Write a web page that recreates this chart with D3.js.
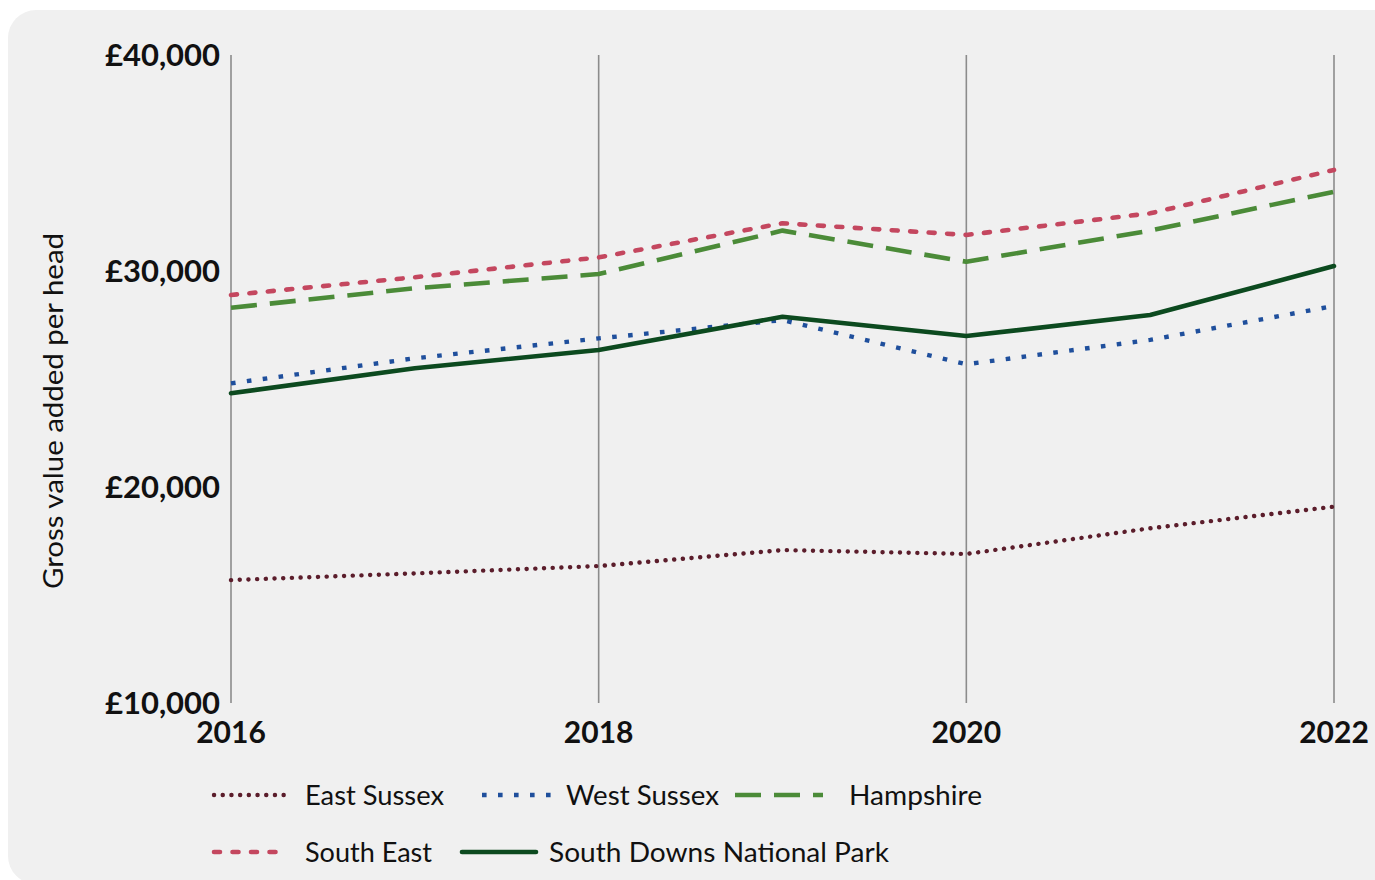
<!DOCTYPE html>
<html>
<head>
<meta charset="utf-8">
<script src="https://cdn.jsdelivr.net/npm/d3@7"></script>
<style>
  html, body { margin: 0; padding: 0; background: #ffffff; }
  svg { display: block; }
</style>
</head>
<body>
<svg id="chart" width="1375" height="880"></svg>
<script>
// Gross value added per head, 2016–2022
const years = [2016, 2017, 2018, 2019, 2020, 2021, 2022];
const eastSussex  = [15690, 16000, 16340, 17080, 16900, 18090, 19090];
const westSussex  = [24800, 25960, 26880, 27730, 25680, 26810, 28380];
const hampshire   = [28300, 29200, 29860, 31870, 30430, 31870, 33670];
const southEast   = [28890, 29710, 30630, 32210, 31670, 32670, 34680];
const southDowns  = [24340, 25500, 26340, 27880, 26990, 27960, 30230];
const xTicks = [2016, 2018, 2020, 2022];
const yTicks = [10000, 20000, 30000, 40000];

const series = [
  { name: "East Sussex", values: eastSussex, color: "#5b1d2b", width: 4.4, dash: "0.1 8.6", cap: "round" },
  { name: "West Sussex", values: westSussex, color: "#1f4f9c", width: 4.4, dash: "4.6 11.4", cap: "butt" },
  { name: "Hampshire", values: hampshire, color: "#4b8b38", width: 4.6, dash: "26 13", cap: "butt" },
  { name: "South East", values: southEast, color: "#c4475f", width: 4.6, dash: "6 12.5", cap: "round" },
  { name: "South Downs National Park", values: southDowns, color: "#0c4a1f", width: 4.6, dash: null, cap: "round" }
];

const svg = d3.select("#chart");

// panel
svg.append("rect")
  .attr("x", 8).attr("y", 10)
  .attr("width", 1420).attr("height", 874)
  .attr("rx", 28).attr("ry", 28)
  .attr("fill", "#f0f0f0");

const x = d3.scaleLinear().domain([2016, 2022]).range([231, 1334]);
const y = d3.scaleLinear().domain([10000, 40000]).range([703, 55]);

// vertical gridlines
svg.append("g")
  .selectAll("line")
  .data(xTicks)
  .join("line")
  .attr("x1", d => x(d)).attr("x2", d => x(d))
  .attr("y1", y(40000)).attr("y2", y(10000))
  .attr("stroke", "#8c8c8c")
  .attr("stroke-width", 1.6);

// y tick labels
svg.append("g")
  .selectAll("text")
  .data(yTicks)
  .join("text")
  .attr("x", 220)
  .attr("y", d => y(d))
  .attr("dy", "0.36em")
  .attr("text-anchor", "end")
  .attr("font-family", "Lato, 'Open Sans', sans-serif")
  .attr("font-weight", 700)
  .attr("font-size", 30)
  .attr("fill", "#111")
  .attr("textLength", 115)
  .attr("lengthAdjust", "spacingAndGlyphs")
  .text(d => "£" + d3.format(",")(d));

// x tick labels
svg.append("g")
  .selectAll("text")
  .data(xTicks)
  .join("text")
  .attr("x", d => x(d))
  .attr("y", 743)
  .attr("text-anchor", "middle")
  .attr("font-family", "Lato, 'Open Sans', sans-serif")
  .attr("font-weight", 700)
  .attr("font-size", 30)
  .attr("fill", "#111")
  .text(d => d);

// y axis title
svg.append("text")
  .attr("transform", "translate(63,411) rotate(-90)")
  .attr("text-anchor", "middle")
  .attr("font-family", "Lato, 'Open Sans', sans-serif")
  .attr("font-weight", 400)
  .attr("font-size", 26)
  .attr("fill", "#111")
  .attr("textLength", 356)
  .attr("lengthAdjust", "spacingAndGlyphs")
  .text("Gross value added per head");

// series lines
const line = d3.line()
  .x((d, i) => x(years[i]))
  .y(d => y(d));

svg.append("g")
  .selectAll("path")
  .data(series)
  .join("path")
  .attr("d", d => line(d.values))
  .attr("fill", "none")
  .attr("stroke", d => d.color)
  .attr("stroke-width", d => d.width)
  .attr("stroke-dasharray", d => d.dash)
  .attr("stroke-linecap", d => d.cap)
  .attr("stroke-linejoin", "round");

// legend
const legendItems = [
  { s: series[0], x0: 214, x1: 292, tx: 305, ty: 795, tw: 139 },
  { s: series[1], x0: 482, x1: 552, tx: 566, ty: 795, tw: 153 },
  { s: series[2], x0: 735, x1: 823, tx: 849, ty: 795, tw: 133 },
  { s: series[3], x0: 214, x1: 282, tx: 305, ty: 852, tw: 127 },
  { s: series[4], x0: 462, x1: 536, tx: 549, ty: 852, tw: 340 }
];

const lg = svg.append("g");
lg.selectAll("line")
  .data(legendItems)
  .join("line")
  .attr("x1", d => d.x0).attr("x2", d => d.x1)
  .attr("y1", d => d.ty).attr("y2", d => d.ty)
  .attr("stroke", d => d.s.color)
  .attr("stroke-width", d => d.s.width)
  .attr("stroke-dasharray", d => d.s.dash)
  .attr("stroke-linecap", d => d.s.cap);

lg.selectAll("text")
  .data(legendItems)
  .join("text")
  .attr("x", d => d.tx)
  .attr("y", d => d.ty)
  .attr("dy", "0.36em")
  .attr("font-family", "Lato, 'Open Sans', sans-serif")
  .attr("font-size", 27)
  .attr("fill", "#111")
  .attr("textLength", d => d.tw)
  .attr("lengthAdjust", "spacingAndGlyphs")
  .text(d => d.s.name);
</script>
</body>
</html>
